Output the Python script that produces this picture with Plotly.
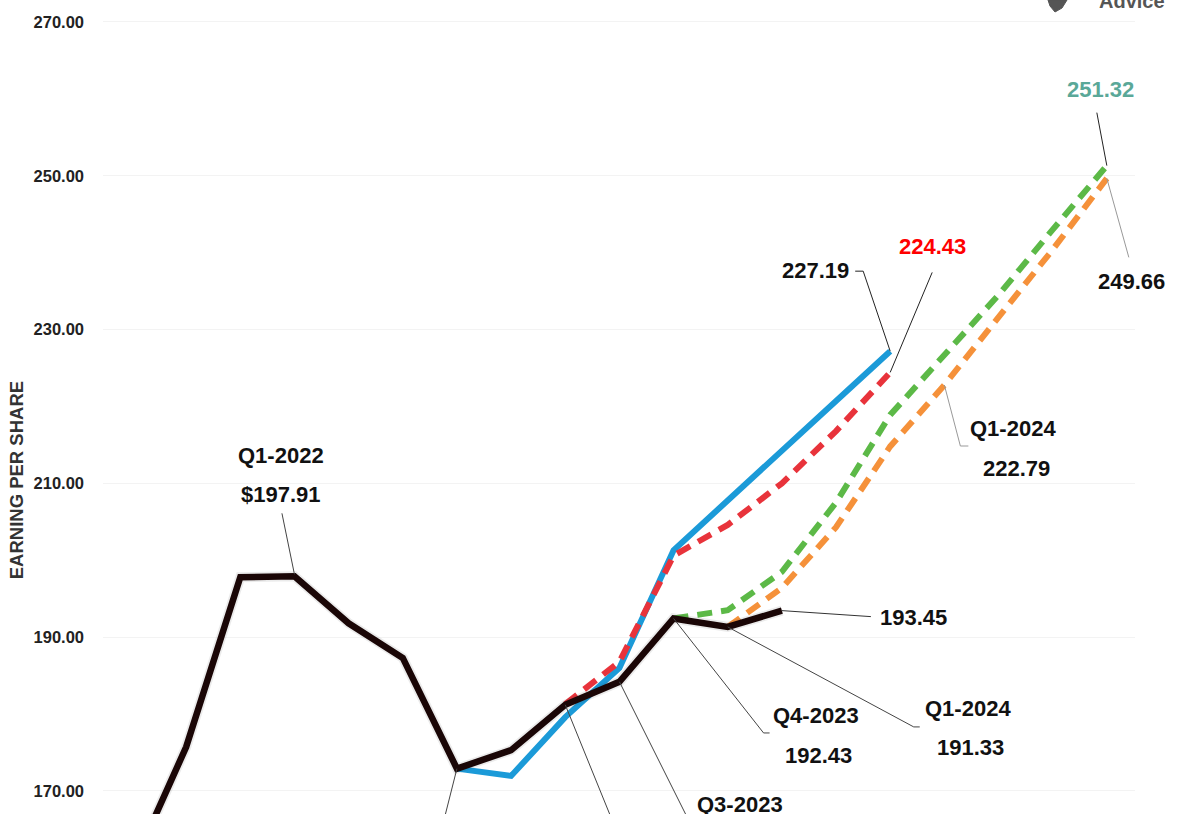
import plotly.graph_objects as go

# ---------------- data ----------------
quarters = ["Q2-2021", "Q3-2021", "Q4-2021", "Q1-2022", "Q2-2022", "Q3-2022", "Q4-2022",
            "Q1-2023", "Q2-2023", "Q3-2023", "Q4-2023", "Q1-2024", "Q2-2024", "Q3-2024",
            "Q4-2024", "Q1-2025", "Q2-2025", "Q3-2025", "Q4-2025"]
N = None
reported_eps = [160.0, 175.7, 197.8, 197.91, 191.8, 187.3, 172.9, 175.3, 181.2, 184.2,
                192.43, 191.33, 193.45, N, N, N, N, N, N]
estimate_blue = [N, N, N, N, N, N, 172.9, 171.95, 179.6, 186.0, 201.3, 207.8, 214.2,
                 220.7, 227.19, N, N, N, N]
estimate_red = [N, N, N, N, N, N, N, N, 181.3, 186.8, 200.6, 204.6, 210.0, 216.8,
                224.43, N, N, N, N]
estimate_green = [N, N, N, N, N, N, N, N, N, N, 192.43, 193.5, 198.5, 207.5, 218.9,
                  226.7, 234.5, 243.0, 251.32]
estimate_orange = [N, N, N, N, N, N, N, N, N, N, N, 191.33, 196.4, 204.3, 214.8,
                   222.79, 231.6, 240.4, 249.66]
y_ticks = [170, 190, 210, 230, 250, 270]

x_idx = list(range(len(quarters)))

LABEL_FONT = "Liberation Sans Narrow, Arial Narrow, Liberation Sans, Arial, sans-serif"
BLACK = "#1a0606"
BLUE = "#1b9ad8"
RED = "#e8333b"
GREEN = "#5cb947"
ORANGE = "#f5913a"

fig = go.Figure()

def add_line(values, color, width, dash=None, name=""):
    fig.add_trace(go.Scatter(
        x=x_idx, y=values, mode="lines", name=name, hoverinfo="skip",
        text=quarters,
        line=dict(color=color, width=width, dash=dash), connectgaps=False))

add_line(estimate_orange, ORANGE, 6, "15px,9px", "Estimate (orange)")
add_line(estimate_green, GREEN, 6, "15px,9px", "Estimate (green)")
add_line(estimate_blue, BLUE, 6, None, "Estimate (blue)")
add_line(estimate_red, RED, 6, "15px,9px", "Estimate (red)")
add_line(reported_eps, "rgba(60,60,60,0.10)", 10, None, "shadow")
add_line(reported_eps, BLACK, 6.5, None, "Reported EPS")

# ---------------- labels with leader lines ----------------
series = {"black": reported_eps, "blue": estimate_blue, "red": estimate_red,
          "green": estimate_green, "orange": estimate_orange}

# texts: (text, dx, dy) in pixels, dy downwards; leader: pixel points, y upward
labels = [
    dict(s="black", i=3, texts=[("Q1-2022", -13.5, -121), ("$197.91", -13.5, -82)],
         color="#111", leader=[(0, 2), (-12.5, 63)], lc="#444"),
    dict(s="black", i=6, texts=[], color="#111", leader=[(0, 0), (-24, -95)], lc="#444"),
    dict(s="black", i=8, texts=[], color="#111", leader=[(0, 0), (63, -155)], lc="#444"),
    dict(s="black", i=9, texts=[("Q3-2023", 121, 123)], color="#111",
         leader=[(0, 0), (89, -178)], lc="#444"),
    dict(s="black", i=10, texts=[("Q4-2023", 142, 97.5), ("192.43", 145, 137.5)],
         color="#111", leader=[(0, 0), (90, -114.5), (96, -114.5)], lc="#444"),
    dict(s="black", i=11, texts=[("Q1-2024", 240, 82), ("191.33", 243, 121)],
         color="#111", leader=[(0, 0), (186, -100), (192, -100)], lc="#444"),
    dict(s="black", i=12, texts=[("193.45", 132, 7)], color="#111",
         leader=[(0, 0), (89, -6)], lc="#333"),
    dict(s="blue", i=14, texts=[("227.19", -75, -81)], color="#111",
         leader=[(0, 0), (-27, 80), (-35, 80)], lc="#222"),
    dict(s="red", i=14, texts=[("224.43", 42.6, -125.4)], color="#ff0000",
         leader=[(0, 0), (42, 100)], lc="#222"),
    dict(s="green", i=18, texts=[("251.32", -6, -76.6)], color="#5aa898",
         leader=[(0, 0), (-10, 53)], lc="#222"),
    dict(s="orange", i=18, texts=[("249.66", 25, 103.6)], color="#111",
         leader=[(0, 0), (22, -79)], lc="#999"),
    dict(s="orange", i=15, texts=[("Q1-2024", 68.4, 43), ("222.79", 72.4, 83)],
         color="#111", leader=[(0, 0), (16, -61), (24, -61)], lc="#999"),
]

for lab in labels:
    xv = x_idx[lab["i"]]
    yv = series[lab["s"]][lab["i"]]
    pts = lab["leader"]
    path = "M " + " L ".join(f"{px},{py}" for px, py in pts)
    fig.add_shape(type="path", path=path, xref="x", yref="y",
                  xsizemode="pixel", ysizemode="pixel", xanchor=xv, yanchor=yv,
                  line=dict(color=lab["lc"], width=1))
    for txt, dx, dy in lab["texts"]:
        fig.add_annotation(x=xv, y=yv, xref="x", yref="y", text=f"<b>{txt}</b>",
                           showarrow=False, xshift=dx, yshift=-dy,
                           xanchor="center", yanchor="middle",
                           font=dict(family=LABEL_FONT, size=22, color=lab["color"]))

# y-axis title
fig.add_annotation(x=-0.0843, y=0.41, xref="paper", yref="paper",
                   text="<b>EARNING PER SHARE</b>", textangle=-90, showarrow=False,
                   xanchor="center", yanchor="middle",
                   font=dict(family="Liberation Sans, Arial, sans-serif", size=18.5,
                             color="#333"))

# logo remnant at the top
fig.add_annotation(x=0.997, y=1 - 1 / 814, xref="paper", yref="paper",
                   text="<b>Advice</b>", showarrow=False, xanchor="center",
                   yanchor="middle",
                   font=dict(family="Liberation Sans, Arial, sans-serif", size=20,
                             color="#555"))
fig.add_shape(type="path", xref="paper", yref="paper", xsizemode="pixel",
              ysizemode="pixel", xanchor=1.0, yanchor=1.0,
              path="M -87,0 L -68,0 L -73,-8 L -80,-12 L -85,-6 Z",
              fillcolor="#555", line=dict(color="#555", width=1))

fig.update_layout(
    width=1195, height=814,
    margin=dict(l=103, r=60, t=0, b=0, pad=0),
    paper_bgcolor="white", plot_bgcolor="white",
    showlegend=False,
    xaxis=dict(range=[-0.535, 18.52], showgrid=False, zeroline=False,
               showticklabels=False, showline=False, ticks=""),
    yaxis=dict(range=[167.0, 272.86], tickvals=y_ticks, tickformat=".2f",
               showgrid=True, gridcolor="#f3f3f3", gridwidth=1, zeroline=False,
               showline=False, ticks="", ticklabelstandoff=18,
               tickfont=dict(family=LABEL_FONT, size=16.5, color="#222",
                             weight="bold")),
)

fig.write_html("out.html")
